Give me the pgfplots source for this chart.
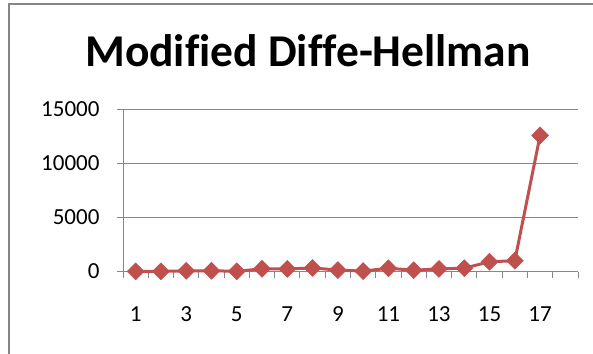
\documentclass[border=0pt]{standalone}
\usepackage{fontspec}
\setmainfont{Carlito}[Ligatures=NoCommon]
\usepackage{pgfplots}
\pgfplotsset{compat=1.18}
\definecolor{ser}{HTML}{C0504D}
\definecolor{gridc}{HTML}{868686}
\begin{document}
\begin{tikzpicture}
\path[use as bounding box] (0pt,-353pt) rectangle (593pt,0pt);
\begin{scope}
\clip (0pt,-353pt) rectangle (593pt,0pt);
\draw[gridc, line width=1.5pt] (9pt,-400pt) -- (9pt,-4pt) -- (650pt,-4pt);
\end{scope}
\node[font=\fontsize{45.5}{50}\selectfont\bfseries, anchor=base, inner sep=0pt] at (308pt,-66.7pt) {Modified Diffe-Hellman};
\begin{axis}[
  at={(123pt,-271.5pt)}, anchor=south west,
  scale only axis, width=455pt, height=162pt,
  xmin=0.5, xmax=18.5, ymin=0, ymax=15000,
  axis x line=bottom, axis y line=left,
  axis line style={gridc, line width=1pt, -},
  ytick={0,5000,10000,15000},
  xtick={1,3,...,17},
  minor xtick={0.5,1.5,...,18.5},
  tick align=outside,
  major tick length=6pt, minor tick length=6pt,
  every major x tick/.append style={draw=none},
  every minor x tick/.append style={gridc, line width=1pt},
  every major y tick/.append style={gridc, line width=1pt},
  ymajorgrids, grid style={gridc, line width=1pt},
  scaled y ticks=false,
  /pgf/number format/assume math mode=true,
  yticklabel={\pgfmathprintnumber[1000 sep={}]{\tick}},
  tick label style={font=\fontsize{23}{26}\selectfont},
  xticklabel style={yshift=-26pt},
  yticklabel style={xshift=-14pt},
  clip=false,
]
\addplot[ser, line width=3pt, mark=square*, mark size=6pt, mark options={rotate=45, solid, fill=ser, draw=ser, line width=0.5pt}]
coordinates {
(1,10) (2,15) (3,60) (4,70) (5,20) (6,250) (7,240) (8,330) (9,130)
(10,40) (11,300) (12,120) (13,240) (14,310) (15,900) (16,1000) (17,12600)
};
\end{axis}
\end{tikzpicture}
\end{document}
